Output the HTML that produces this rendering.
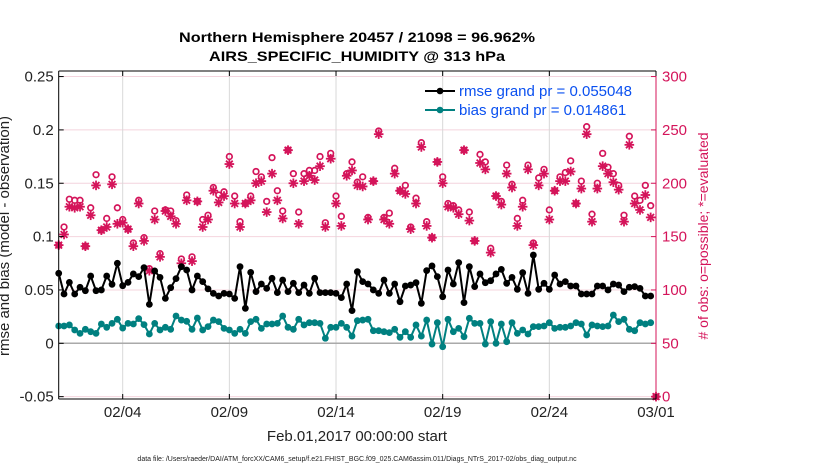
<!DOCTYPE html>
<html><head><meta charset="utf-8"><style>
html,body{margin:0;padding:0;background:#fff;}
svg{display:block;font-family:"Liberation Sans",sans-serif;}
</style></head><body>
<svg id="chart" width="830" height="470" viewBox="0 0 830 470">
<rect x="0" y="0" width="830" height="470" fill="#fff"/>
<text x="357" y="42" text-anchor="middle" font-size="14" font-weight="bold" textLength="356" lengthAdjust="spacingAndGlyphs">Northern Hemisphere 20457 / 21098 = 96.962%</text>
<text x="357" y="61" text-anchor="middle" font-size="14" font-weight="bold" textLength="296" lengthAdjust="spacingAndGlyphs">AIRS_SPECIFIC_HUMIDITY @ 313 hPa</text>
<g id="grid"></g>
<g id="marks"></g>
<g id="axes"></g>
<text x="357" y="441" text-anchor="middle" font-size="15" fill="#222">Feb.01,2017 00:00:00 start</text>
<text x="357" y="461" text-anchor="middle" font-size="7" fill="#222">data file: /Users/raeder/DAI/ATM_forcXX/CAM6_setup/f.e21.FHIST_BGC.f09_025.CAM6assim.011/Diags_NTrS_2017-02/obs_diag_output.nc</text>
<text transform="translate(9,236) rotate(-90)" text-anchor="middle" font-size="15" fill="#222">rmse and bias (model - observation)</text>
<text transform="translate(708,236) rotate(-90)" text-anchor="middle" font-size="14" fill="#d4145a"># of obs: o=possible; *=evaluated</text>
<g>
<line x1="425" y1="91" x2="455" y2="91" stroke="#000" stroke-width="2"/>
<circle cx="440" cy="91" r="3.3" fill="#000"/>
<text x="459" y="96" font-size="15" fill="#0a50f0">rmse grand pr = 0.055048</text>
<line x1="425" y1="110" x2="455" y2="110" stroke="#008080" stroke-width="2"/>
<circle cx="440" cy="110" r="3.3" fill="#008080"/>
<text x="459" y="115" font-size="15" fill="#0a50f0">bias grand pr = 0.014861</text>
</g>
</svg>
<script>
const rmseValues=[0.0656,0.0462,0.0571,0.0462,0.0525,0.0493,0.0631,0.0493,0.0500,0.0631,0.0553,0.0750,0.0540,0.0571,0.0650,0.0625,0.0709,0.0365,0.0678,0.0618,0.0421,0.0521,0.0606,0.0718,0.0687,0.0500,0.0631,0.0578,0.0510,
0.0468,0.0443,0.0468,0.0462,0.0421,0.0718,0.0328,0.0665,0.0484,0.0556,0.0515,0.0609,0.0475,0.0593,0.0484,0.0562,0.0475,0.0546,0.0468,0.0609,0.0475,0.0475,0.0475,0.0468,0.0428,0.0556,0.0306,0.0671,
0.0578,0.0556,0.0500,0.0468,0.0593,0.0468,0.0556,0.0390,0.0537,0.0546,0.0568,0.0375,0.0681,0.0725,0.0625,0.0437,0.0687,0.0556,0.0756,0.0381,0.0718,0.0531,0.0650,0.0568,0.0587,0.0650,0.0693,0.0562,
0.0618,0.0506,0.0662,0.0468,0.0827,0.0506,0.0562,0.0506,0.0640,0.0556,0.0578,0.0537,0.0537,0.0462,0.0462,0.0462,0.0537,0.0537,0.0500,0.0556,0.0546,0.0484,0.0525,0.0531,0.0515,0.0443,0.0443];
const biasValues=[0.0162,0.0162,0.0172,0.0125,0.0093,0.0131,0.0109,0.0093,0.0181,0.0150,0.0187,0.0225,0.0143,0.0187,0.0181,0.0231,0.0175,0.0087,0.0187,0.0125,0.0150,0.0131,0.0256,0.0218,0.0206,0.0131,0.0237,0.0125,0.0156,
0.0218,0.0203,0.0140,0.0125,0.0093,0.0131,0.0093,0.0203,0.0225,0.0140,0.0181,0.0181,0.0187,0.0256,0.0150,0.0131,0.0225,0.0172,0.0193,0.0193,0.0187,0.0047,0.0150,0.0150,0.0187,0.0150,0.0068,0.0212,
0.0218,0.0225,0.0118,0.0118,0.0109,0.0100,0.0131,0.0056,0.0109,0.0056,0.0172,0.0068,0.0218,-0.0007,0.0193,-0.0032,0.0225,0.0109,0.0140,0.0062,0.0234,0.0187,0.0187,-0.0007,0.0203,0.0000,0.0181,0.0015,
0.0193,0.0093,0.0125,0.0087,0.0156,0.0156,0.0162,0.0193,0.0140,0.0150,0.0150,0.0162,0.0193,0.0181,0.0078,0.0172,0.0162,0.0156,0.0162,0.0265,0.0203,0.0225,0.0131,0.0118,0.0193,0.0181,0.0193];
const evaluatedCounts=[142,152,178,177,178,141,170,198,156,159,199,162,163,157,141,181,146,118,166,131,174,169,162,125,184,127,183,159,166,
193,182,188,218,181,159,181,184,200,202,173,209,184,167,231,200,162,202,207,203,216,159,223,181,160,207,212,198,
197,166,202,246,166,162,209,193,190,157,181,234,160,149,220,200,178,177,171,231,165,146,219,213,135,188,180,209,
196,160,178,213,142,198,209,166,193,202,202,211,181,195,246,164,195,216,209,201,194,164,236,181,175,189,168,0];
const possibleCounts=[142,159,185,184,184,141,177,208,156,167,206,177,166,157,144,184,149,120,174,134,175,174,165,129,189,131,183,166,170,
196,189,192,225,188,164,181,188,211,206,183,224,193,174,231,209,173,209,212,212,225,163,228,188,169,209,220,201,
206,168,202,249,168,172,214,193,198,159,186,238,164,149,220,206,181,179,175,231,173,146,227,220,139,188,183,217,
199,167,184,217,144,205,213,175,193,206,210,221,181,202,253,171,200,228,215,209,198,170,244,188,184,198,179,0];
const xTickDays=[3,8,13,18,23,28];
const xTickLabels=["02/04","02/09","02/14","02/19","02/24","03/01"];
const leftTicks=[-0.05,0,0.05,0.1,0.15,0.2,0.25];
const leftTickLabels=["-0.05","0","0.05","0.1","0.15","0.2","0.25"];
const rightTicks=[0,50,100,150,200,250,300];

const NS="http://www.w3.org/2000/svg";
const PL=58.7,PR=656,PT=71,PB=399;
const xScale=d=>PL+d*(PR-PL)/28;
const yScale=v=>343.3-v*1067;
const yRight=c=>yScale((c-50)/1000);
function mk(tag,attrs,parent){const e=document.createElementNS(NS,tag);for(const k in attrs)e.setAttribute(k,attrs[k]);parent.appendChild(e);return e;}
const grid=document.getElementById('grid'),marks=document.getElementById('marks'),axes=document.getElementById('axes');
const PINK="#d4145a";

leftTicks.forEach(v=>{const y=yScale(v);const l=mk('line',{x1:PL,x2:PR,y1:y,y2:y,stroke:'#f4d4de','stroke-width':1},grid);

});
xTickDays.forEach(d=>{const x=xScale(d);const l=mk('line',{x1:x,x2:x,y1:PT,y2:PB,stroke:'#d8d8d8','stroke-width':1},grid);

});
const zl=mk('line',{x1:PL,x2:PR,y1:yScale(0),y2:yScale(0),stroke:'#aaa','stroke-width':1.5},grid);



evaluatedCounts.forEach((c,i)=>{const x=xScale(i/4),y=yRight(c);
const g=mk('g',{stroke:PINK,'stroke-width':1.8,fill:'none'},marks);


const r=4.8;
mk('line',{x1:x-r,x2:x+r,y1:y,y2:y},g);mk('line',{x1:x,x2:x,y1:y-r,y2:y+r},g);
mk('line',{x1:x-r*0.7,x2:x+r*0.7,y1:y-r*0.7,y2:y+r*0.7},g);mk('line',{x1:x-r*0.7,x2:x+r*0.7,y1:y+r*0.7,y2:y-r*0.7},g);});
possibleCounts.forEach((c,i)=>{const x=xScale(i/4),y=yRight(c);
const e=mk('circle',{cx:x,cy:y,r:2.8,stroke:PINK,'stroke-width':1.7,fill:'none'},marks);

});

function series(vals,color,name){
const pts=vals.map((v,i)=>xScale(i/4)+','+yScale(v)).join(' ');
const pl=mk('polyline',{points:pts,fill:'none',stroke:color,'stroke-width':2},marks);


vals.forEach((v,i)=>{const c=mk('circle',{cx:xScale(i/4),cy:yScale(v),r:3.4,fill:color},marks);

});}
series(biasValues,'#008080','bias');
series(rmseValues,'#000','rmse');

const fr=[[PL,PT,PR,PT,'#000'],[PL,PB,PR,PB,'#000'],[PL,PT,PL,PB,'#000'],[PR,PT,PR,PB,PINK]];
fr.forEach(f=>{const l=mk('line',{x1:f[0],y1:f[1],x2:f[2],y2:f[3],stroke:f[4],'stroke-width':1},axes);

});
leftTicks.forEach((v,i)=>{const y=yScale(v);
mk('line',{x1:PL,x2:PL+5,y1:y,y2:y,stroke:'#000'},axes);
const t=mk('text',{x:PL-5,y:y+5,'text-anchor':'end','font-size':15,fill:'#222'},axes);
t.textContent=leftTickLabels[i];

});
rightTicks.forEach(c=>{const y=yRight(c);
mk('line',{x1:PR-5,x2:PR,y1:y,y2:y,stroke:PINK},axes);
const t=mk('text',{x:PR+6,y:y+5,'font-size':15,fill:PINK},axes);
t.textContent=String(c);

});
xTickDays.forEach((d,i)=>{const x=xScale(d);
mk('line',{x1:x,x2:x,y1:PB,y2:PB-5,stroke:'#000'},axes);mk('line',{x1:x,x2:x,y1:PT,y2:PT+5,stroke:'#000'},axes);
const t=mk('text',{x:x,y:PB+18,'text-anchor':'middle','font-size':15,fill:'#222'},axes);
t.textContent=xTickLabels[i];

});
</script>
</body></html>
